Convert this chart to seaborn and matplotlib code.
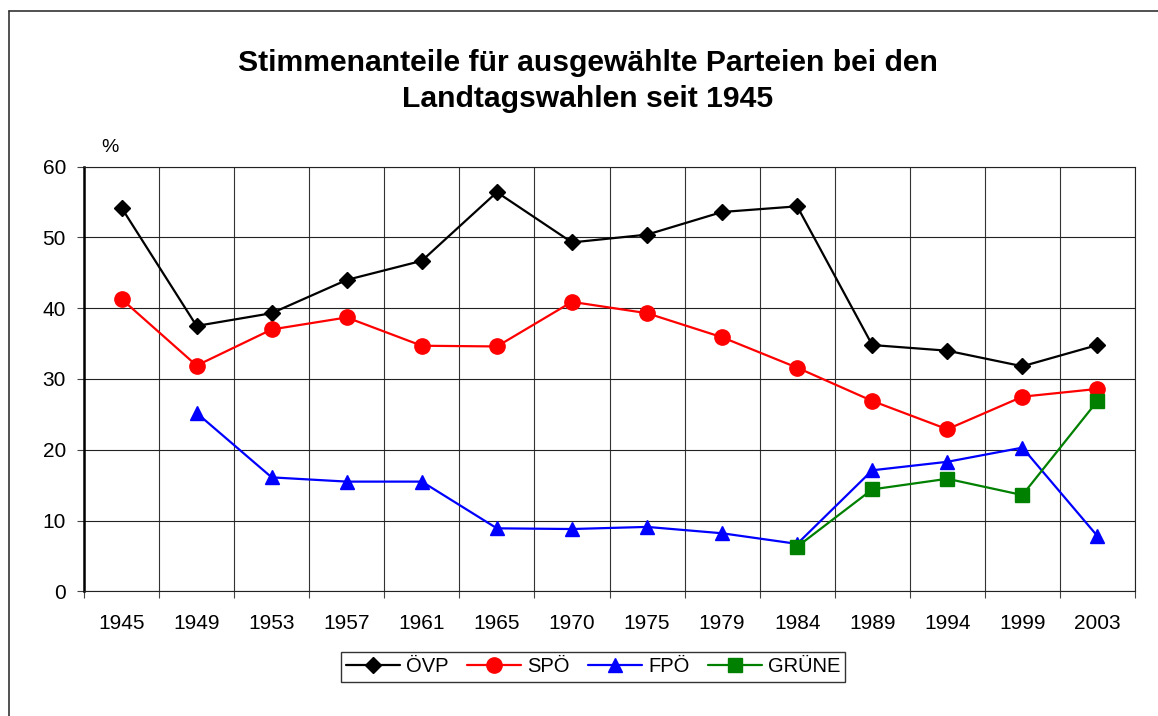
import matplotlib
matplotlib.use("Agg")
import matplotlib.pyplot as plt
import matplotlib.ticker as mticker
from matplotlib.lines import Line2D
import numpy as np
import pandas as pd
import seaborn as sns

# --------------------------------------------------------------------------- #
# Data
# --------------------------------------------------------------------------- #
years = ["1945", "1949", "1953", "1957", "1961", "1965", "1970",
         "1975", "1979", "1984", "1989", "1994", "1999", "2003"]

oevp  = [54.2, 37.5, 39.3, 44.0, 46.7, 56.4, 49.3, 50.4, 53.6, 54.4, 34.8, 34.0, 31.8, 34.8]
spoe  = [41.3, 31.9, 37.0, 38.7, 34.7, 34.6, 40.9, 39.3, 35.9, 31.6, 26.9, 22.9, 27.5, 28.6]
fpoe  = [np.nan, 25.2, 16.1, 15.5, 15.5, 8.9, 8.8, 9.1, 8.2, 6.7, 17.1, 18.3, 20.3, 7.8]
gruene = [np.nan] * 9 + [6.3, 14.4, 15.9, 13.6, 26.9]

parties = ["ÖVP", "SPÖ", "FPÖ", "GRÜNE"]
COLORS  = {"ÖVP": "black", "SPÖ": "#ff0000", "FPÖ": "#0000ff", "GRÜNE": "#008000"}
MARKERS = {"ÖVP": "D", "SPÖ": "o", "FPÖ": "^", "GRÜNE": "s"}
MSIZE   = {"ÖVP": 8.3, "SPÖ": 11, "FPÖ": 10.5, "GRÜNE": 10}

df = pd.DataFrame({"year": years, "ÖVP": oevp, "SPÖ": spoe, "FPÖ": fpoe, "GRÜNE": gruene})
long = df.melt(id_vars="year", var_name="party", value_name="share").dropna()

# --------------------------------------------------------------------------- #
# Figure
# --------------------------------------------------------------------------- #
sns.set_theme(style="white")
plt.rcParams["font.family"] = ["Liberation Sans", "DejaVu Sans"]
plt.rcParams["text.color"] = "black"
plt.rcParams["xtick.color"] = "black"
plt.rcParams["ytick.color"] = "black"

W, H = 1158, 716
fig = plt.figure(figsize=(W / 100, H / 100), dpi=100)
ax = fig.add_axes([84 / W, 1 - 591.3 / H, (1135 - 84) / W, (591.3 - 166.7) / H])

# category order fixed by the first (complete) series
for p in parties:
    sub = long[long["party"] == p]
    sns.lineplot(
        data=sub, x="year", y="share", ax=ax, label=p,
        color=COLORS[p], marker=MARKERS[p], markersize=MSIZE[p],
        markeredgecolor=COLORS[p], markeredgewidth=1, linewidth=1.6,
        sort=False,
    )

ax.set_xlim(-0.5, len(years) - 0.5)
ax.set_ylim(0, 60)
ax.set_xlabel("")
ax.set_ylabel("")

ax.yaxis.set_major_locator(mticker.MultipleLocator(10))
ax.xaxis.set_major_locator(mticker.FixedLocator(range(len(years))))
ax.xaxis.set_major_formatter(mticker.FixedFormatter(years))
ax.xaxis.set_minor_locator(mticker.FixedLocator(np.arange(-0.5, len(years), 1.0)))

ax.tick_params(axis="x", which="major", length=0, pad=16, labelsize=15, labelcolor="black")
ax.tick_params(axis="x", which="minor", length=5, width=0.8, color="#444444", direction="out", bottom=True)
ax.tick_params(axis="y", which="major", length=5, width=0.8, color="#444444", direction="out",
               left=True, pad=8, labelsize=15, labelcolor="black")

ax.grid(False)
ax.grid(axis="y", which="major", color="#222222", linewidth=0.8)
ax.grid(axis="x", which="minor", color="#333333", linewidth=0.8)
ax.set_axisbelow(True)

for side, sp in ax.spines.items():
    sp.set_visible(True)
    sp.set_color("#222222")
    sp.set_linewidth(0.8)
ax.spines["left"].set_linewidth(1.8)
ax.spines["left"].set_color("black")

fig.text(110 / W, 1 - 148 / H, "%", ha="center", va="center", fontsize=14, color="black")

fig.text(588 / W, 1 - 81 / H,
         "Stimmenanteile für ausgewählte Parteien bei den\nLandtagswahlen seit 1945",
         ha="center", va="center", fontsize=21.7, fontweight="bold", linespacing=1.35,
         color="black")

leg = ax.legend(
    loc="center", bbox_to_anchor=(593 / W, 1 - 667 / H), bbox_transform=fig.transFigure,
    ncol=4, frameon=True, fancybox=False, fontsize=14.5, handlelength=2.7,
    handletextpad=0.3, columnspacing=0.9, borderpad=0.25,
)
leg.get_frame().set_edgecolor("black")
leg.get_frame().set_linewidth(1.0)
for t in leg.get_texts():
    t.set_color("black")

# outer frame (top and left edges visible in the reference)
fig.add_artist(Line2D([8.5 / W, 1.0], [1 - 11 / H, 1 - 11 / H],
                      transform=fig.transFigure, color="#333333", linewidth=1.2))
fig.add_artist(Line2D([8.5 / W, 8.5 / W], [0.0, 1 - 11 / H],
                      transform=fig.transFigure, color="#333333", linewidth=1.2))

fig.savefig("out.png", dpi=100)
plt.close(fig)
